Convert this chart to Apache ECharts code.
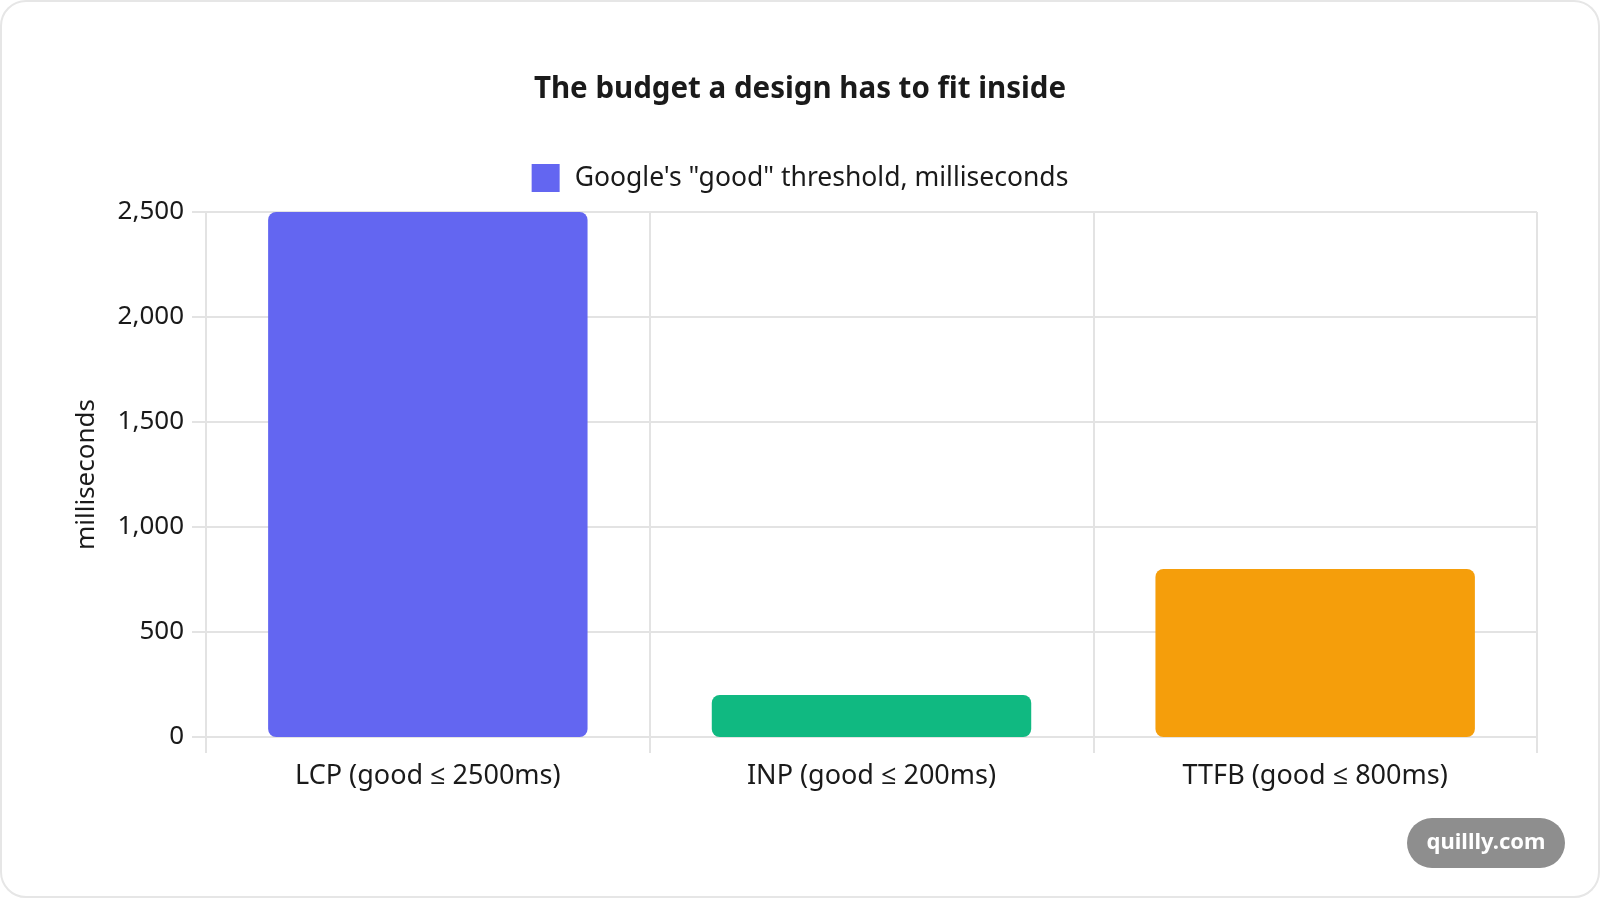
<!DOCTYPE html>
<html>
<head>
<meta charset="utf-8">
<script src="https://cdn.jsdelivr.net/npm/echarts@6/dist/echarts.min.js"></script>
<style>
  html, body { margin: 0; padding: 0; background: #ffffff; }
  #card {
    position: absolute; left: 0; top: 0;
    width: 1596px; height: 894px;
    border: 2px solid #e6e6e6; border-radius: 26px;
    background: #ffffff; overflow: hidden;
  }
  #chart { width: 1596px; height: 894px; }
</style>
</head>
<body>
<div id="card"><div id="chart"></div></div>
<script>
const FONT = '"Noto Sans", "Open Sans", sans-serif';

// data
const categories = ['LCP (good \u2264 2500ms)', 'INP (good \u2264 200ms)', 'TTFB (good \u2264 800ms)'];
const thresholds = [2500, 200, 800];
const barColors = ['#6366f1', '#10b981', '#f59e0b'];
const seriesName = 'Google\'s "good" threshold, milliseconds';

const chart = echarts.init(document.getElementById('chart'));

const option = {
    animation: false,
    title: {
        text: 'The budget a design has to fit inside',
        left: 'center',
        top: 68,
        textStyle: {
            color: '#1a1a1a',
            fontSize: 29.5,
            fontWeight: 'bold',
            fontFamily: FONT
        }
    },
    legend: {
        top: 157,
        left: 'center',
        itemWidth: 28,
        itemHeight: 28,
        itemGap: 14,
        icon: 'rect',
        textStyle: {
            color: '#1a1a1a',
            fontSize: 26.5,
            fontFamily: FONT,
            padding: [0, 0, 0, 10]
        },
        data: [seriesName]
    },
    grid: {
        left: 204,
        right: 61,
        top: 210,
        bottom: 159
    },
    xAxis: {
        type: 'category',
        data: categories,
        axisLine: { show: true, lineStyle: { color: '#e3e3e3', width: 2 } },
        axisTick: { show: true, length: 16, lineStyle: { color: '#e3e3e3', width: 2 } },
        splitLine: { show: true, lineStyle: { color: '#e3e3e3', width: 2 } },
        axisLabel: {
            margin: 26,
            color: '#1a1a1a',
            fontSize: 27,
            fontFamily: FONT
        }
    },
    yAxis: {
        type: 'value',
        min: 0,
        max: 2500,
        interval: 500,
        name: 'milliseconds',
        nameLocation: 'middle',
        nameRotate: 90,
        nameGap: 106,
        nameTextStyle: {
            color: '#1a1a1a',
            fontSize: 26,
            fontFamily: FONT
        },
        axisLine: { show: false },
        axisTick: { show: true, length: 14, lineStyle: { color: '#e3e3e3', width: 2 } },
        splitLine: { show: true, lineStyle: { color: '#e3e3e3', width: 2 } },
        axisLabel: {
            margin: 22,
            color: '#1a1a1a',
            fontSize: 26,
            fontFamily: FONT,
            formatter: function (v) { return v.toLocaleString('en-US'); }
        }
    },
    series: [{
        name: seriesName,
        type: 'bar',
        barWidth: '72%',
        itemStyle: { color: barColors[0], borderRadius: 8 },
        data: thresholds.map(function (v, i) {
            return { value: v, itemStyle: { color: barColors[i], borderRadius: 8 } };
        })
    }],
    graphic: [{
        type: 'group',
        right: 33,
        bottom: 28,
        children: [{
            type: 'rect',
            shape: { x: 0, y: 0, width: 158, height: 50, r: 25 },
            style: { fill: '#8e8e8e' }
        }, {
            type: 'text',
            x: 79,
            y: 25,
            style: {
                text: 'quillly.com',
                fill: '#ffffff',
                fontSize: 22,
                fontWeight: 'bold',
                fontFamily: FONT,
                align: 'center',
                verticalAlign: 'middle'
            }
        }]
    }]
};

chart.setOption(option);
</script>
</body>
</html>
